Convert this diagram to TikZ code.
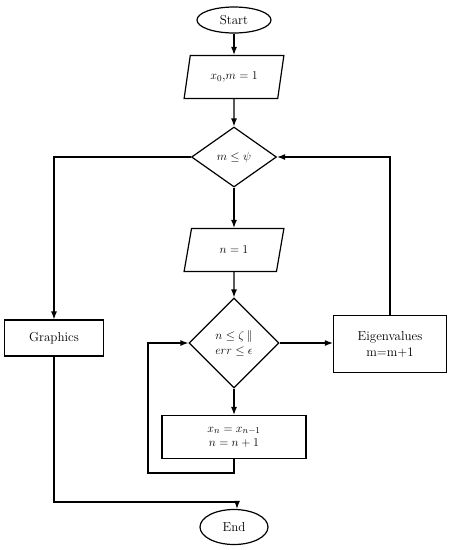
\documentclass[tikz,border=0pt]{standalone}
\usetikzlibrary{shapes.geometric,arrows.meta}
\begin{document}
\begin{tikzpicture}[x=1pt,y=-1pt,
  every node/.style={font=\fontsize{13}{16}\selectfont, align=center},
  base/.style={draw, line width=1.2pt},
  term/.style={base, ellipse, inner sep=0pt},
  io/.style={base, trapezium, trapezium left angle=72, trapezium right angle=108, trapezium stretches=true, minimum width=100pt, minimum height=43pt, inner sep=0pt},
  dec/.style={base, diamond, inner sep=0pt},
  proc/.style={base, rectangle, inner sep=0pt},
  conn/.style={line width=1.2pt, -{Latex[length=8pt,width=6pt]}}]
\useasboundingbox (0,0) rectangle (453,550);
\node[term, minimum width=74pt, minimum height=26pt] (start) at (234,20) {Start};
\node[io] (init) at (234,77) {$x_0$,$m=1$};
\node[dec, minimum width=85pt, minimum height=60pt] (d1) at (234,157) {$m\le\psi$};
\node[io] (n1) at (234,250) {$n=1$};
\node[dec, minimum width=90pt, minimum height=90pt] (d2) at (234,343) {$n\le\zeta\,\|$\\[-1pt]$err\le\epsilon$};
\node[proc, minimum width=144pt, minimum height=43pt] (upd) at (234,437) {$x_n=x_{n-1}$\\[-2pt]$n=n+1$};
\node[proc, minimum width=99pt, minimum height=36pt] (gr) at (54,338) {Graphics};
\node[proc, minimum width=113pt, minimum height=57pt] (eig) at (390,344) {Eigenvalues\\m=m+1};
\node[term, minimum width=68pt, minimum height=35pt] (end) at (234,527) {End};
\coordinate (lp1) at (234,473);
\coordinate (lp2) at (148,473);
\coordinate (lp3) at (148,343);
\coordinate (gb) at (54,502);
\coordinate (ge) at (237,502);
\coordinate (gl) at (54,157);
\coordinate (et) at (390,157);
\draw[conn] (start) -- (init);
\draw[conn] (init) -- (d1);
\draw[conn] (d1) -- (n1);
\draw[conn] (n1) -- (d2);
\draw[conn] (d2) -- (upd);
\draw[conn] (upd.south) -- (lp1) -- (lp2) -- (lp3) -- (d2.west);
\draw[conn] (d1.west) -- (gl) -- (gr.north);
\draw[conn] (d2.east) -- (d2.east -| eig.west);
\draw[conn] (eig.north) -- (et) -- (d1.east);
\draw[conn] (gr.south) -- (gb) -- (ge) -- (ge |- end.north);
\end{tikzpicture}
\end{document}
